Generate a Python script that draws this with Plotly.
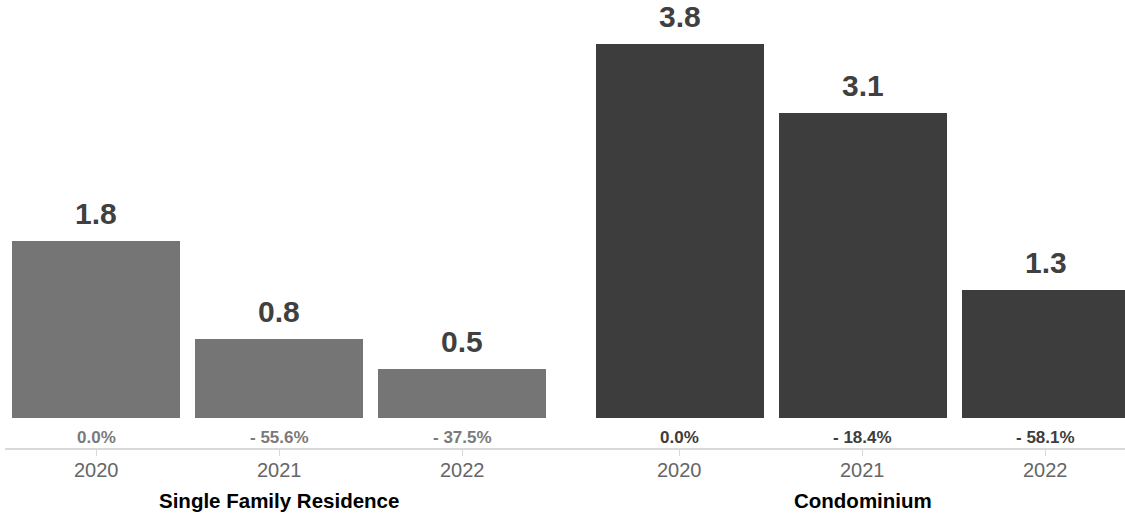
import plotly.graph_objects as go

# Data
groups = ["Single Family Residence", "Condominium"]
years = ["2020", "2021", "2022"]
sfr_values = [1.8, 0.8, 0.5]
condo_values = [3.8, 3.1, 1.3]
sfr_changes = ["0.0%", "- 55.6%", "- 37.5%"]
condo_changes = ["0.0%", "- 18.4%", "- 58.1%"]

# Layout constants (positions in category units)
GROUP_GAP = 0.191
sfr_x = [0, 1, 2]
condo_x = [3 + GROUP_GAP + i for i in range(3)]
BAR_W = 0.918
PX_PER_UNIT = 98.5
Y_BOTTOM_PX = 31

sfr_color = "#757575"
condo_color = "#3d3d3d"
font_family = "Liberation Sans, Arial, Helvetica, sans-serif"

fig = go.Figure()
fig.add_trace(go.Bar(x=sfr_x, y=sfr_values, width=BAR_W,
                     marker=dict(color=sfr_color, line=dict(width=0)),
                     hoverinfo="skip", showlegend=False))
fig.add_trace(go.Bar(x=condo_x, y=condo_values, width=BAR_W,
                     marker=dict(color=condo_color, line=dict(width=0)),
                     hoverinfo="skip", showlegend=False))

annotations = []
# Value labels above bars
for xs, vals in ((sfr_x, sfr_values), (condo_x, condo_values)):
    for x, v in zip(xs, vals):
        annotations.append(dict(
            x=x, y=v, xref="x", yref="y", text=f"{v:.1f}",
            showarrow=False, yanchor="bottom", yshift=9,
            font=dict(family=font_family, size=30, color="#404040", weight="bold")))

# Percentage change labels under bars
for xs, labels, col in ((sfr_x, sfr_changes, "#7a7a7a"), (condo_x, condo_changes, "#3d3d3d")):
    for x, t in zip(xs, labels):
        annotations.append(dict(
            x=x, y=0, xref="x", yref="y", text=t,
            showarrow=False, yanchor="middle", yshift=-19.5,
            font=dict(family=font_family, size=17, color=col, weight="bold")))

# Year labels under the axis line
for xs in (sfr_x, condo_x):
    for x, yr in zip(xs, years):
        annotations.append(dict(
            x=x, y=0, xref="x", yref="paper", text=yr,
            showarrow=False, yanchor="middle", yshift=-20.5,
            font=dict(family=font_family, size=20, color="#666666")))

# Group titles
for xs, name in ((sfr_x, groups[0]), (condo_x, groups[1])):
    annotations.append(dict(
        x=xs[1], y=0, xref="x", yref="paper", text=name,
        showarrow=False, yanchor="middle", yshift=-51,
        font=dict(family=font_family, size=20.5, color="#000000", weight="bold")))

x_left = -0.5246
x_right = x_left + 1125 / 183.0

fig.update_layout(
    width=1125, height=515,
    margin=dict(l=0, r=0, t=0, b=66, pad=0),
    paper_bgcolor="white", plot_bgcolor="white",
    bargap=0,
    annotations=annotations,
    shapes=[dict(type="line", xref="x", yref="paper",
                 x0=-0.497, x1=x_right, y0=0, y1=0,
                 line=dict(color="#d9d9d9", width=2), layer="above")],
    xaxis=dict(
        range=[x_left, x_right],
        tickvals=sfr_x + condo_x,
        ticktext=["", "", "", "", "", ""],
        ticks="outside", ticklen=6, tickwidth=1, tickcolor="#d9d9d9",
        showgrid=False, zeroline=False, showline=False,
        fixedrange=True,
    ),
    yaxis=dict(
        range=[-Y_BOTTOM_PX / PX_PER_UNIT, (449 - Y_BOTTOM_PX) / PX_PER_UNIT],
        visible=False, showgrid=False, zeroline=False, fixedrange=True,
    ),
)

fig.write_html("out.html", config={"displayModeBar": False})
